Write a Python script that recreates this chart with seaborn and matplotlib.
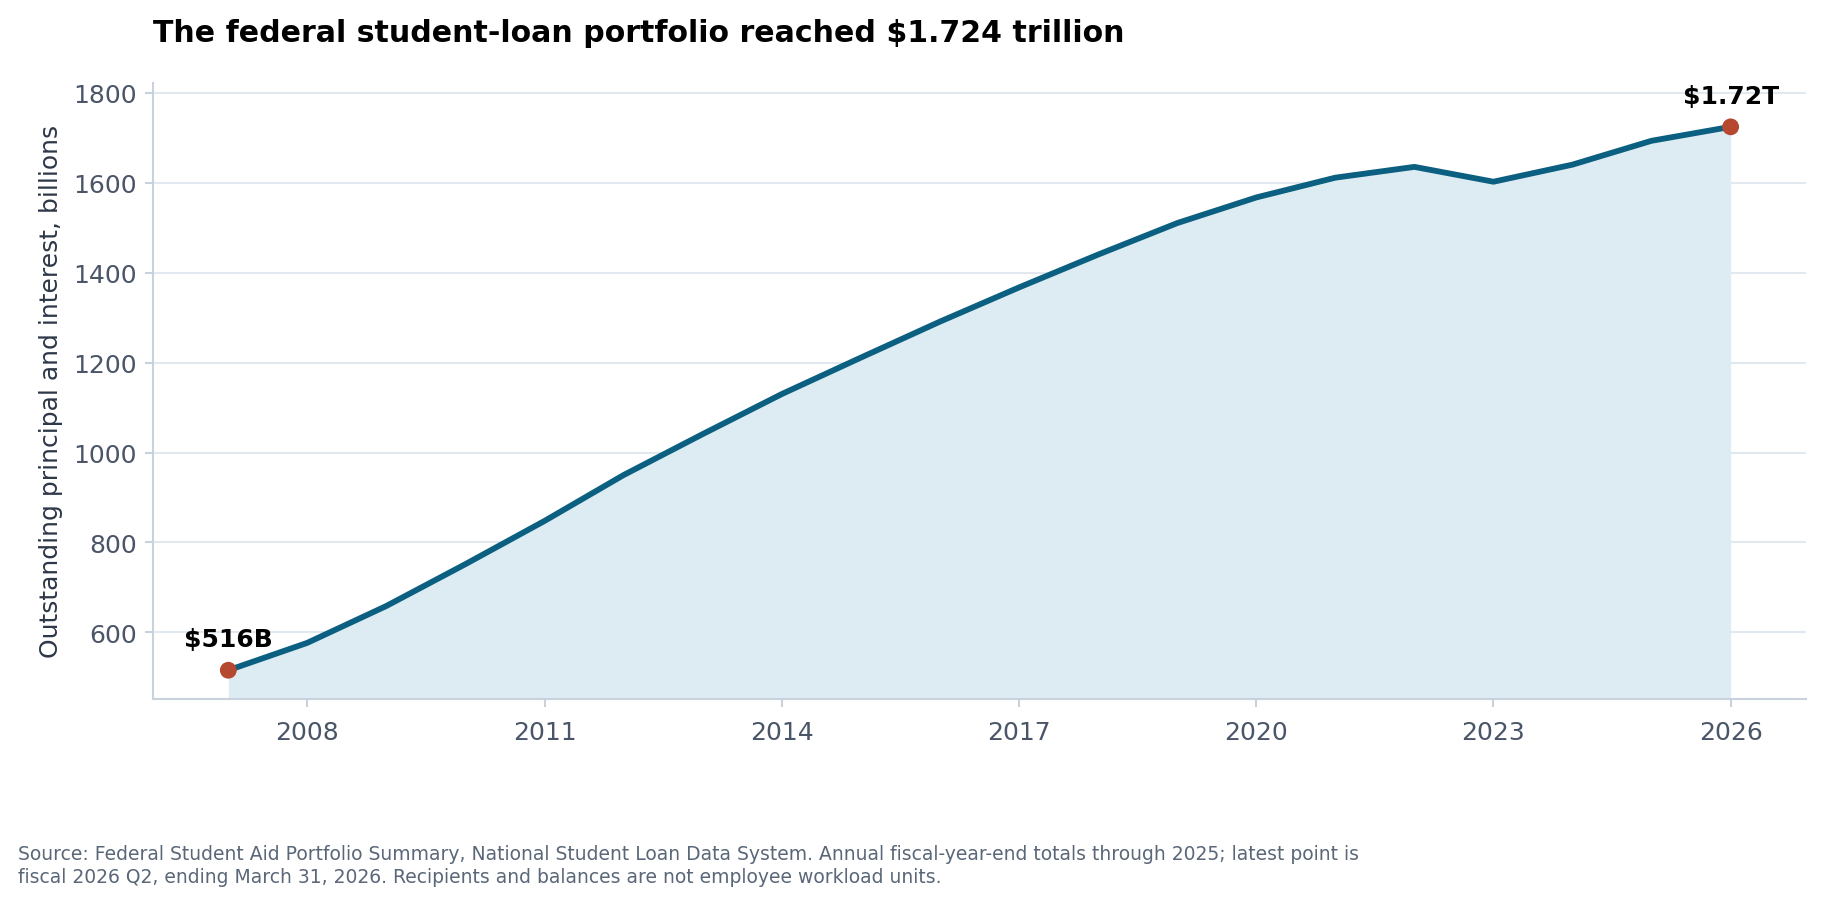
"""Federal student-loan portfolio line chart."""

import matplotlib.pyplot as plt
import pandas as pd
import seaborn as sns

# Data: fiscal-year-end totals, billions (2026 = fiscal Q2)
years = [2007, 2008, 2009, 2010, 2011, 2012, 2013, 2014, 2015, 2016,
         2017, 2018, 2019, 2020, 2021, 2022, 2023, 2024, 2025, 2026]
balance = [516, 577, 659, 752, 848, 950, 1041, 1130, 1211, 1291,
           1367, 1440, 1510, 1567, 1611, 1635, 1602, 1640, 1693, 1724]
end_labels = ["$516B", "$1.72T"]
x_ticks = [2008, 2011, 2014, 2017, 2020, 2023, 2026]

title = "The federal student-loan portfolio reached $1.724 trillion"
y_label = "Outstanding principal and interest, billions"
source = ("Source: Federal Student Aid Portfolio Summary, National Student Loan Data System. "
          "Annual fiscal-year-end totals through 2025; latest point is\n"
          "fiscal 2026 Q2, ending March 31, 2026. Recipients and balances are not "
          "employee workload units.")

LINE = "#0b5f80"
FILL = "#ddebf3"
DOT = "#b5482e"
TICK = "#4a5568"
SPINE = "#c8d1dc"
GRID = "#e2e8f0"

df = pd.DataFrame({"year": years, "balance": balance})

sns.set_theme(style="white")
plt.rcParams["font.family"] = ["DejaVu Sans"]

fig = plt.figure(figsize=(12.16, 6.033), dpi=150)
ax = fig.add_axes([0.084, 0.2265, 0.906, 0.681])

ax.fill_between(df["year"], df["balance"], 0, color=FILL, linewidth=0, zorder=1)
sns.lineplot(data=df, x="year", y="balance", ax=ax, color=LINE, linewidth=2.8, zorder=3)

ends = df.iloc[[0, -1]]
sns.scatterplot(data=ends, x="year", y="balance", ax=ax, color=DOT, s=65,
                edgecolor="none", zorder=4)
for (_, row), lab in zip(ends.iterrows(), end_labels):
    ax.annotate(lab, (row["year"], row["balance"]), xytext=(0, 9),
                textcoords="offset points", ha="center", va="bottom",
                fontsize=12, fontweight="bold", color="black", zorder=5)

ax.set_xlim(2006.05, 2026.95)
ax.set_ylim(452, 1822)
ax.set_xticks(x_ticks)
ax.set_xticklabels([str(t) for t in x_ticks])
ax.set_yticks([600, 800, 1000, 1200, 1400, 1600, 1800])

ax.yaxis.grid(True, color=GRID, linewidth=1.0, zorder=0)
ax.xaxis.grid(False)
ax.set_axisbelow(True)

for side in ["top", "right"]:
    ax.spines[side].set_visible(False)
for side in ["left", "bottom"]:
    ax.spines[side].set_color(SPINE)
    ax.spines[side].set_linewidth(1.0)

ax.tick_params(axis="both", which="major", labelsize=12, colors=SPINE,
               labelcolor=TICK, length=4, width=1, left=True, bottom=True, pad=6)
ax.tick_params(axis="y", pad=4)
ax.set_xlabel("")
ax.set_ylabel(y_label, fontsize=12, color="#2d3748", labelpad=5)

ax.set_title(title, loc="left", fontsize=14.4, fontweight="bold", color="black", pad=20)

fig.text(0.0096, 0.02, source, fontsize=9, color="#5a6778", ha="left",
         va="bottom", linespacing=1.25)

fig.savefig("out.png", dpi=150)
